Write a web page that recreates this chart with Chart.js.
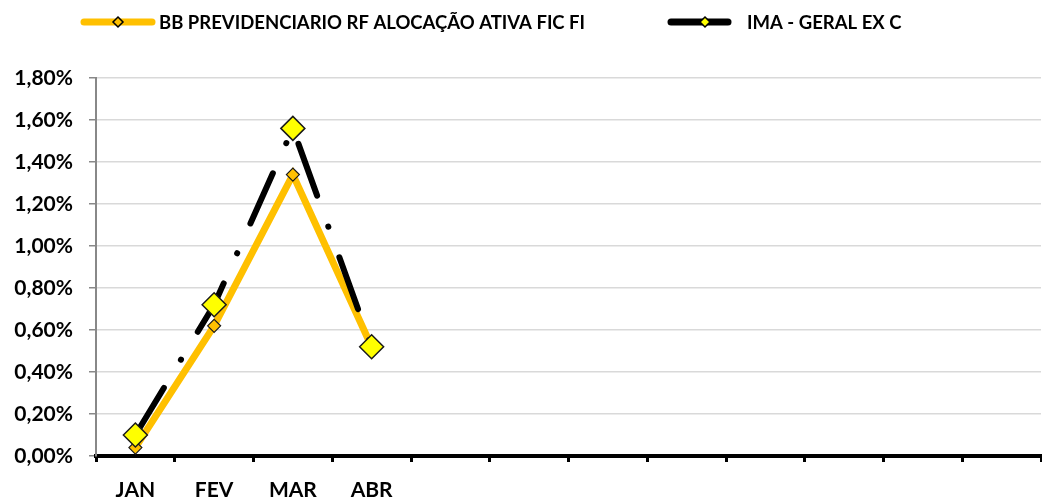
<!DOCTYPE html>
<html>
<head>
<meta charset="utf-8">
<script src="https://cdn.jsdelivr.net/npm/chart.js@4.4.1/dist/chart.umd.min.js"></script>
<style>
  html, body { margin: 0; padding: 0; background: #fff; overflow: hidden; }
  #wrap { position: relative; width: 1042px; height: 500px; }
</style>
</head>
<body>
<div id="wrap"><canvas id="chart"></canvas></div>
<script>
// months (only the first four are labelled in the source sheet)
const months = ['JAN', 'FEV', 'MAR', 'ABR', '', '', '', '', '', '', '', ''];
const fundName = 'BB PREVIDENCIARIO RF ALOCAÇÃO ATIVA FIC FI';
const benchName = 'IMA - GERAL EX C';
// monthly returns, %
const fundValues = [0.04, 0.62, 1.34, 0.52];
const benchValues = [0.10, 0.72, 1.56, 0.52];
// y axis range, %
const yMin = 0;
const yMax = 1.8;
const yStep = 0.2;

const FONT = 'Lato, "Open Sans", sans-serif';
const ORANGE = '#FFC000';
const YELLOW = '#FFFF00';

// line samples for the legend
const legendItems = [
  { text: fundName, x: 81, lineW: 74, color: ORANGE, markerX: 37, markerFill: ORANGE, gap: 4 },
  { text: benchName, x: 668, lineW: 63, color: '#000', markerX: 37, markerFill: YELLOW, gap: 16 }
];

const lineLegend = {
  id: 'lineLegend',
  afterDraw(chart) {
    const ctx = chart.ctx;
    const y = 22;
    ctx.save();
    legendItems.forEach(item => {
      ctx.lineCap = 'round';
      ctx.strokeStyle = item.color;
      ctx.lineWidth = 7;
      ctx.beginPath();
      ctx.moveTo(item.x + 3, y);
      ctx.lineTo(item.x + item.lineW - 3, y);
      ctx.stroke();
      const mx = item.x + item.markerX, r = 5;
      ctx.beginPath();
      ctx.moveTo(mx, y - r); ctx.lineTo(mx + r, y); ctx.lineTo(mx, y + r); ctx.lineTo(mx - r, y);
      ctx.closePath();
      ctx.fillStyle = item.markerFill;
      ctx.fill();
      ctx.lineWidth = 1.5;
      ctx.strokeStyle = '#000';
      ctx.stroke();
      ctx.fillStyle = '#000';
      ctx.font = 'bold 18.5px ' + FONT;
      ctx.textBaseline = 'middle';
      ctx.fillText(item.text, item.x + item.lineW + item.gap, y + 1);
    });
    ctx.restore();
  }
};

const ctx = document.getElementById('chart').getContext('2d');
new Chart(ctx, {
  type: 'line',
  data: {
    labels: months,
    datasets: [
      {
        label: benchName,
        data: benchValues,
        borderColor: '#000',
        borderWidth: 6,
        borderDash: [55, 33, 0.1, 32.5],
        borderCapStyle: 'round',
        pointStyle: 'rectRot',
        pointRadius: 12,
        pointHoverRadius: 12,
        pointBackgroundColor: YELLOW,
        pointBorderColor: '#1a1a1a',
        pointBorderWidth: 1.5,
        tension: 0,
        order: 0
      },
      {
        label: fundName,
        data: fundValues,
        borderColor: ORANGE,
        borderWidth: 7,
        borderCapStyle: 'round',
        pointStyle: 'rectRot',
        pointRadius: 6.5,
        pointHoverRadius: 6.5,
        pointBackgroundColor: ORANGE,
        pointBorderColor: '#1a1a1a',
        pointBorderWidth: 1.2,
        tension: 0,
        order: 1
      }
    ]
  },
  options: {
    responsive: true,
    maintainAspectRatio: false,
    animation: false,
    layout: {
      autoPadding: false, // big markers would otherwise shrink the plot area
      padding: { top: 78, right: 1, bottom: 0, left: 0 }
    },
    plugins: {
      legend: { display: false },
      tooltip: { enabled: false }
    },
    scales: {
      x: {
        offset: true,
        afterFit: (scale) => { scale.height = 44; },
        grid: {
          offset: true,
          drawOnChartArea: false,
          drawTicks: true,
          tickLength: 6,
          tickColor: '#000',
          tickWidth: 3
        },
        border: { color: '#000', width: 4 },
        ticks: {
          autoSkip: false,
          maxRotation: 0,
          padding: 0,
          color: '#000',
          font: { family: FONT, size: 21, weight: 'bold', lineHeight: 2.7 }
        }
      },
      y: {
        min: yMin,
        max: yMax,
        afterFit: (scale) => { scale.width = 96; },
        grid: {
          color: '#d9d9d9',
          lineWidth: 1.5,
          borderDash: [6, 5],
          tickBorderDash: [],
          tickLength: 7,
          tickColor: '#888',
          tickWidth: 1.5
        },
        border: { color: '#888', width: 2 },
        ticks: {
          stepSize: yStep,
          padding: 16,
          color: '#000',
          font: { family: FONT, size: 21, weight: 'bold' },
          callback: (v) => v.toFixed(2).replace('.', ',') + '%'
        }
      }
    }
  },
  plugins: [lineLegend]
});
</script>
</body>
</html>
